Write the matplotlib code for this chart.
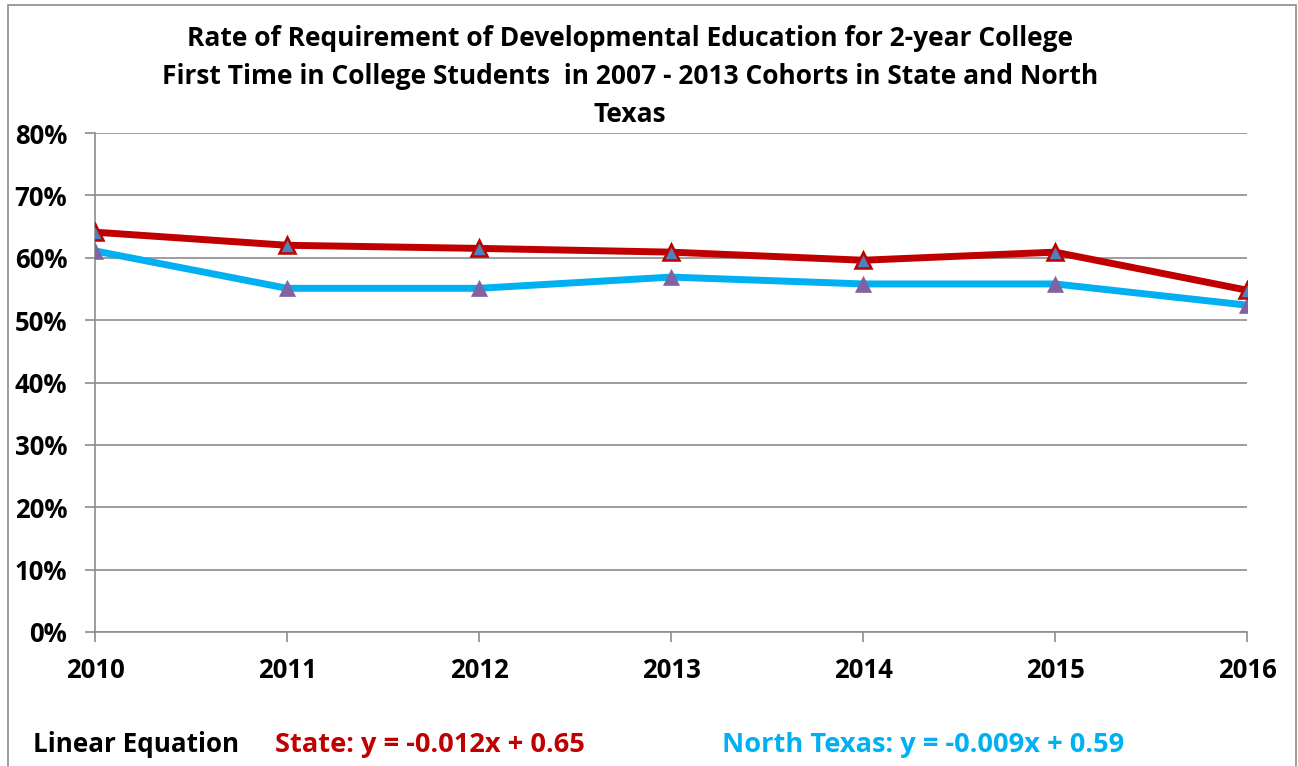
import matplotlib
matplotlib.use('Agg')
import matplotlib.pyplot as plt
from matplotlib.patches import Rectangle
from matplotlib.ticker import FuncFormatter

# cohort years and rates of developmental education requirement
years = [2010, 2011, 2012, 2013, 2014, 2015, 2016]
state_rate = [0.641, 0.620, 0.615, 0.609, 0.596, 0.609, 0.548]
north_texas_rate = [0.611, 0.551, 0.551, 0.569, 0.558, 0.558, 0.524]

title_lines = ['Rate of Requirement of Developmental Education for 2-year College',
               'First Time in College Students  in 2007 - 2013 Cohorts in State and North',
               'Texas']
state_eq = 'State: y = -0.012x + 0.65'
nt_eq = 'North Texas: y = -0.009x + 0.59'

plt.rcParams['font.family'] = ['Open Sans', 'DejaVu Sans']
plt.rcParams['font.weight'] = 'bold'

fig = plt.figure(figsize=(12.98, 7.66), dpi=100)
W, H = 1298, 766

# outer chart border
fig.patches.append(Rectangle((8 / W, -0.01), (1296 - 8) / W, 1 - 5 / H + 0.01,
                             transform=fig.transFigure, fill=False,
                             edgecolor='#8c8c8c', lw=1.2))

ax = fig.add_axes([95 / W, 1 - 632 / H, (1247 - 95) / W, (632 - 133) / H])

ax.plot(years, state_rate, color='#C00000', lw=5, marker='^', ms=11,
        mfc='#4F81BD', mec='#C00000', mew=1.8, zorder=4)
ax.plot(years, north_texas_rate, color='#00B0F0', lw=5, marker='^', ms=12,
        mfc='#8064A2', mec='#8064A2', mew=0.5, zorder=3)

ax.set_xlim(years[0], years[-1])
ax.set_ylim(0, 0.8)
ax.set_xticks(years)
ax.set_yticks([i / 10 for i in range(9)])
ax.yaxis.set_major_formatter(FuncFormatter(lambda v, p: f'{v * 100:.0f}%'))
ax.grid(axis='y', color='#8c8c8c', lw=1.2)
ax.set_axisbelow(True)
for s in ['top', 'right']:
    ax.spines[s].set_visible(False)
for s in ['left', 'bottom']:
    ax.spines[s].set_color('#8c8c8c')
    ax.spines[s].set_linewidth(1.2)
ax.tick_params(axis='both', colors='#8c8c8c', length=7, width=1.2, direction='out')
ax.tick_params(axis='y', pad=13)
ax.tick_params(axis='x', pad=11)
for lbl in ax.get_xticklabels() + ax.get_yticklabels():
    lbl.set_color('black')
    lbl.set_fontsize(18.5)
    lbl.set_fontweight('bold')

# title, three centred lines
for i, line in enumerate(title_lines):
    fig.text(630 / W, 1 - (38 + 38.5 * i) / H, line, ha='center', va='center',
             fontsize=19, fontweight='bold')

# trend equations under the chart
fig.text(33 / W, 1 - 745 / H, 'Linear Equation', ha='left', va='center',
         fontsize=18.7, fontweight='bold', color='black')
fig.text(275 / W, 1 - 745 / H, state_eq, ha='left', va='center',
         fontsize=19.6, fontweight='bold', color='#C00000')
fig.text(722 / W, 1 - 745 / H, nt_eq, ha='left', va='center',
         fontsize=19.6, fontweight='bold', color='#00B0F0')

fig.savefig('out.png', dpi=100)
